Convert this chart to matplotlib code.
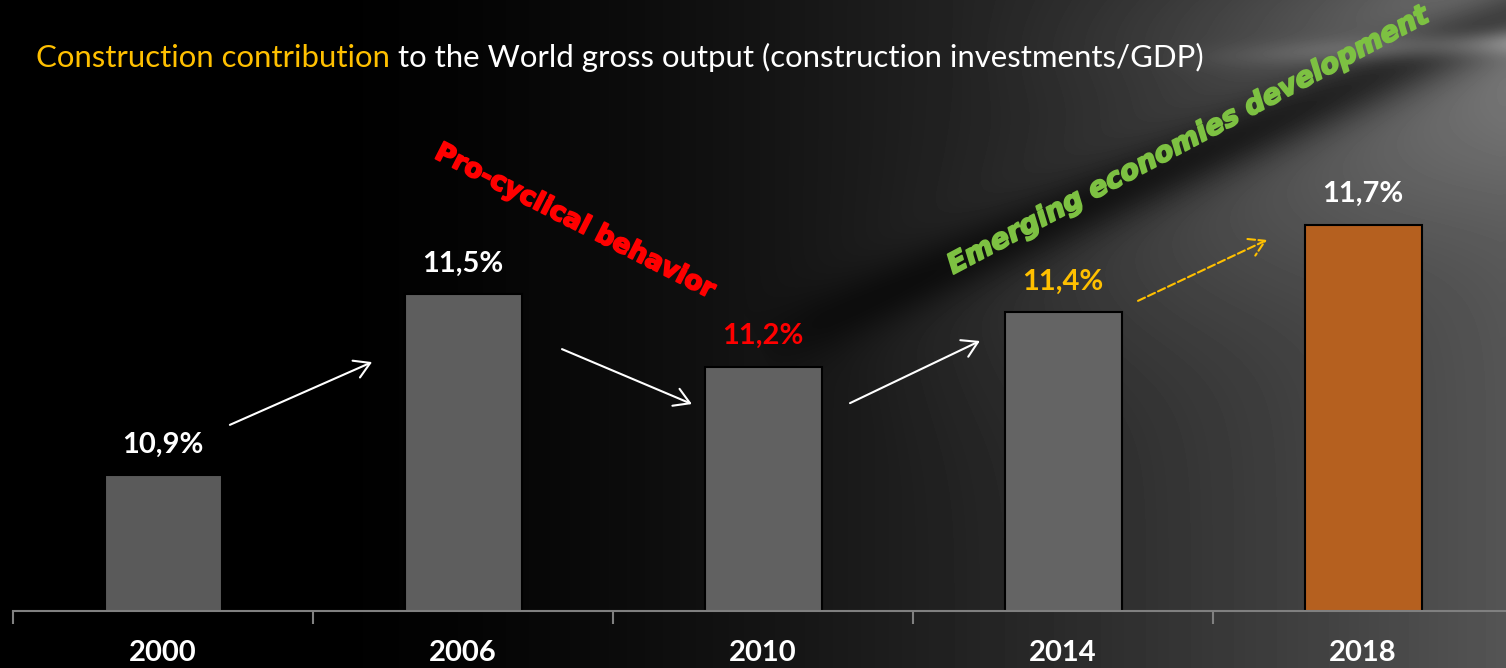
import numpy as np
import matplotlib.pyplot as plt
import matplotlib.patheffects as pe

plt.rcParams['font.family'] = ['Lato', 'DejaVu Sans']

# data
years = ['2000', '2006', '2010', '2014', '2018']
values = [10.9, 11.5, 11.26, 11.44, 11.73]   # bar heights
labels = ['10,9%', '11,5%', '11,2%', '11,4%', '11,7%']
label_colors = ['white', 'white', '#ff0000', '#ffc000', 'white']
bar_colors = ['#5a5a5a', '#5e5e5e', '#616161', '#646464', '#b5601f']

W, H = 1506, 668
fig = plt.figure(figsize=(W / 100, H / 100), dpi=100)

# background: dark on the left, grey on the right, with a few light streaks
bg_ax = fig.add_axes([0, 0, 1, 1], zorder=-1)
yy, xx = np.mgrid[0:H, 0:W].astype(float)
bg = 0.33 * np.clip((xx - 300) / 1200, 0, 1) ** 1.5


def band(p0, p1, sigma):
    d = np.array(p1, float) - np.array(p0, float)
    L = np.hypot(*d)
    d /= L
    dist = (xx - p0[0]) * d[1] - (yy - p0[1]) * d[0]
    t = np.clip(((xx - p0[0]) * d[0] + (yy - p0[1]) * d[1]) / L, 0, 1)
    return np.exp(-0.5 * (dist / sigma) ** 2), t


g, t = band((1506, 90), (850, 380), 80)
bg += 0.12 * g * (1 - t)
g, t = band((1506, 18), (760, 350), 22)
bg -= 0.24 * g * (1 - t) ** 0.7
g, t = band((1506, 42), (1150, 60), 9)
bg += 0.20 * g * (1 - t)
g, t = band((1506, 0), (950, 60), 40)
bg += 0.08 * g * (1 - t)
bg = np.clip(bg, 0, 1)
bg_ax.imshow(bg, cmap='gray', vmin=0, vmax=1, aspect='auto', interpolation='bilinear')
bg_ax.axis('off')

# main chart
ax = fig.add_axes([13 / W, 57 / H, 1500 / W, 611 / H])
ax.patch.set_alpha(0)
x = np.arange(len(years))
ax.bar(x, values, width=0.39, color=bar_colors, edgecolor='black', linewidth=1.5)
ax.set_xlim(-0.5, 4.5)
ax.set_ylim(10.45, 10.45 + 611 / 301.7)

for s in ['top', 'left', 'right']:
    ax.spines[s].set_visible(False)
ax.spines['bottom'].set_color('#808080')
ax.spines['bottom'].set_linewidth(1.5)
ax.set_yticks([])
ax.set_xticks(x, years, fontweight='bold')
ax.set_xticks(np.arange(-0.5, 5, 1), minor=True)
ax.tick_params(axis='x', which='major', length=0, pad=21, labelsize=21, labelcolor='white')
ax.tick_params(axis='x', which='minor', length=9, width=1.5, color='#808080')

# value labels
for i, v in enumerate(values):
    ax.annotate(labels[i], (i, v), xytext=(0, 22), textcoords='offset points',
                ha='center', va='center', fontsize=21, fontweight='bold',
                color=label_colors[i])

# trend arrows
arrows = [((0.223, 11.067), (0.697, 11.275)),
          ((1.33, 11.318), (1.763, 11.136)),
          ((2.29, 11.139), (2.723, 11.345))]
for start, end in arrows:
    ax.annotate('', xy=end, xytext=start,
                arrowprops=dict(arrowstyle='->,head_length=0.5,head_width=0.3',
                                color='white', lw=1.5, mutation_scale=22,
                                shrinkA=0, shrinkB=0))
ax.annotate('', xy=(3.68, 11.68), xytext=(3.25, 11.478),
            arrowprops=dict(arrowstyle='->,head_length=0.5,head_width=0.3',
                            color='#ffc000', lw=1.5, ls='--', mutation_scale=22,
                            shrinkA=0, shrinkB=0))

# rotated comments (stroke makes them look like a black-weight face)
ax.text(1.373, 11.74, 'Pro-cyclical behavior', rotation=-27, rotation_mode='anchor',
        ha='center', va='center', color='#ff0000', fontsize=19, fontweight='bold',
        family='DejaVu Sans',
        path_effects=[pe.withStroke(linewidth=1.3, foreground='#ff0000')])
ax.text(3.417, 12.01, 'Emerging economies development', rotation=28, rotation_mode='anchor',
        ha='center', va='center', color='#7dc142', fontsize=20, fontweight='bold',
        style='italic', family='DejaVu Sans',
        path_effects=[pe.withStroke(linewidth=1.3, foreground='#7dc142')])

# title in two colours
t1 = fig.text(36 / W, 1 - 58 / H, 'Construction contribution', color='#ffc000',
              fontsize=22.4, va='center', ha='left')
ax.annotate(' to the World gross output (construction investments/GDP)',
            xy=(1, 0), xycoords=t1, va='bottom', ha='left',
            color='white', fontsize=22.4, annotation_clip=False)

plt.savefig('out.png', dpi=100)
